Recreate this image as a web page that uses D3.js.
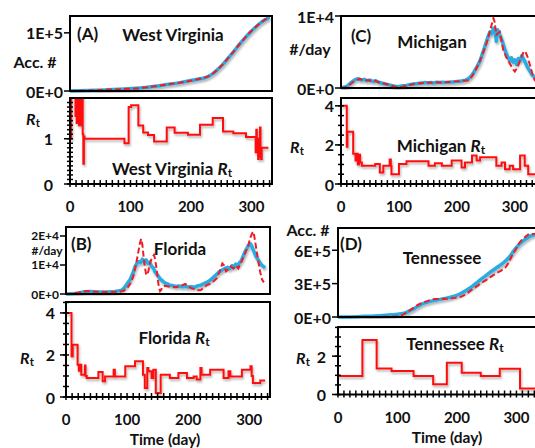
<!DOCTYPE html>
<html>
<meta charset="utf-8">
<style>
body { margin: 0; background: #fff; }
text { font-family: Lato, "Open Sans", sans-serif; font-weight: bold; fill: #111; }
.frame { fill: none; stroke: #000; stroke-width: 2; }
.obs { fill: none; stroke: #29abe2; stroke-width: 3.5; stroke-linejoin: round; }
.fit { fill: none; stroke: #ee1c25; stroke-width: 2; stroke-dasharray: 6,3; }
.rt { fill: none; stroke: #ff1010; stroke-width: 2; }
.tick { stroke: #000; stroke-width: 1.5; }
</style>
<body>
<svg width="535" height="448"></svg>
<script src="https://d3js.org/d3.v7.min.js"></script>
<script>

// ---- data: [day, value] ----
var wvObs = [[0,0],[30,800],[60,2000],[90,3500],[116,5000],[140,8000],[160,11000],[180,14000],[200,18000],[215,21000],[226,24000],[235,29000],[243,36000],[252,45000],[261,56000],[270,67000],[280,80000],[289,91000],[298,101000],[307,110000],[316,118000],[325,124000],[330,127000]];
var wvFit = [[0,0],[30,900],[60,2100],[90,3400],[116,5100],[140,8000],[160,11200],[180,14100],[200,17800],[215,21000],[226,24200],[235,29200],[243,36000],[252,45300],[261,56000],[270,67200],[280,80000],[289,91000],[298,101500],[307,110000],[316,118000],[325,124500],[330,127000]];
var wvRt = [[0,1.0],[2,3],[9,1.5],[10,3],[11,1.35],[12,3],[13,1.6],[14,3],[15,1.3],[16,3],[17,1.5],[18,2.6],[19,1.3],[20,1.9],[21,1.1],[22,0.45],[23,1.05],[24,1.0],[90,0.9],[97,1.7],[101,1.74],[113,1.29],[121,1.14],[129,1.08],[139,0.94],[160,1.25],[173,1.13],[195,1.09],[215,1.31],[236,1.46],[253,1.16],[270,1.12],[291,1.04],[307,0.7],[308,1.2],[309,0.75],[310,1.0],[311,0.55],[312,0.9],[313,0.6],[314,1.25],[315,0.8],[316,0.55],[317,0.8],[328,0.8]];

var flObs = [[0,0],[10,100],[20,300],[30,800],[40,900],[50,700],[60,700],[70,750],[80,900],[90,1200],[95,2000],[100,3500],[105,5000],[110,7500],[113,9500],[116,10500],[119,11200],[122,10800],[125,12000],[128,11000],[131,11800],[134,10500],[137,11000],[140,9500],[143,9000],[146,7500],[150,6500],[154,5200],[158,4500],[162,3800],[166,3500],[170,3000],[175,2900],[180,2600],[185,2800],[190,2500],[195,2700],[200,2400],[205,2500],[210,2300],[215,2800],[220,3000],[225,3500],[230,4000],[235,4600],[240,5500],[245,6500],[250,7500],[255,8200],[260,8800],[265,9200],[268,8700],[272,9800],[275,9200],[278,10300],[281,9700],[284,10800],[287,11500],[290,13000],[294,15000],[298,16500],[302,17300],[305,16000],[308,14500],[311,13000],[314,12000],[317,11000],[320,10000],[323,9500],[326,9000]];
var flFit = [[0,0],[10,200],[20,500],[30,900],[35,1000],[45,800],[60,700],[75,700],[88,800],[95,1200],[100,2000],[105,3500],[110,6000],[114,9500],[118,14000],[121,17500],[123,19000],[125,17000],[127,13000],[129,9500],[131,7000],[133,6500],[135,8000],[138,11000],[141,12500],[144,13500],[146,12000],[148,9000],[150,5500],[152,2500],[154,1000],[156,1500],[158,2500],[162,2800],[170,2500],[180,2300],[188,2800],[195,3500],[200,2800],[205,2000],[210,1700],[215,1300],[220,1300],[225,2000],[230,3000],[236,3600],[242,4500],[247,5500],[252,8000],[256,10500],[259,9800],[262,7800],[266,8500],[270,9500],[274,8800],[278,9800],[282,8800],[286,10500],[290,12500],[294,14500],[298,16500],[302,19500],[305,21000],[307,21500],[309,19000],[312,15000],[315,11000],[318,7500],[321,5000],[324,4000]];
var flRt = [[0,4.0],[9,1.94],[11,2.49],[19,1.54],[21,1.25],[23,1.54],[25,1.06],[31,1.5],[32,1.0],[34,0.9],[53,1.19],[60,0.75],[64,0.98],[78,1.3],[80,0.98],[97,1.46],[113,1.7],[126,1.06],[129,0.43],[133,1.38],[135,1.22],[140,0.9],[143,1.3],[147,0.19],[155,1.06],[170,0.9],[184,1.14],[198,0.9],[209,0.98],[214,0.83],[220,1.38],[222,1.06],[236,1.3],[258,0.9],[266,1.22],[269,0.98],[288,1.3],[302,1.46],[304,1.0],[306,0.67],[318,0.78],[326,0.78]];

var miObs = [[0,0],[10,200],[15,600],[20,900],[25,1200],[30,1300],[35,1100],[40,1200],[45,1000],[50,1100],[55,900],[60,1000],[65,800],[70,700],[75,600],[80,500],[85,400],[90,300],[95,200],[100,200],[105,300],[110,300],[115,400],[120,500],[125,550],[130,600],[135,650],[140,700],[145,750],[150,700],[155,750],[160,700],[165,800],[170,750],[175,800],[180,750],[185,800],[190,850],[195,850],[200,900],[205,950],[210,1000],[215,1100],[220,1300],[225,1700],[230,2300],[235,3000],[240,3800],[245,5000],[250,6200],[254,7200],[257,7800],[260,7500],[263,8300],[266,7900],[268,6500],[270,8100],[273,7600],[276,7000],[279,6300],[282,5500],[285,4800],[288,4300],[291,3800],[294,4200],[297,3600],[300,3900],[303,3300],[306,4100],[309,3800],[312,4500],[315,4000],[318,3600],[321,3000],[324,2600],[327,2200],[330,1800],[335,1500],[340,1300]];
var miFit = [[0,0],[8,100],[15,460],[22,900],[28,1150],[33,1250],[38,1100],[41,1050],[47,1100],[53,950],[59,1000],[65,800],[70,700],[76,600],[82,450],[88,300],[94,180],[99,130],[105,150],[112,300],[120,450],[128,600],[135,650],[142,700],[151,780],[160,720],[167,800],[174,780],[182,820],[190,850],[197,920],[205,950],[212,1000],[220,1060],[226,1600],[231,2300],[237,3300],[243,4400],[247,5300],[251,6200],[255,7300],[259,8500],[263,9700],[265,9200],[268,7400],[271,7600],[274,7800],[277,6500],[280,5300],[285,4300],[291,3450],[296,2700],[300,2300],[304,2800],[308,3600],[312,4400],[315,5000],[318,5100],[322,4300],[326,3200],[330,2000],[334,1150],[338,800]];
var miRt = [[0,4.0],[10,1.9],[11,2.67],[21,1.55],[25,1.2],[27,1.55],[29,1.0],[31,1.5],[33,1.1],[36,0.94],[59,1.02],[67,0.59],[73,0.94],[84,1.25],[86,0.94],[87,0.5],[100,1.02],[113,1.16],[151,0.94],[162,1.06],[174,0.94],[191,1.2],[208,0.85],[214,1.1],[226,1.46],[234,1.2],[240,1.37],[268,0.94],[277,1.1],[283,0.76],[291,0.94],[297,0.76],[309,1.46],[317,0.94],[323,0.5],[345,0.5]];

var tnObs = [[0,0],[20,1000],[45,6000],[70,12000],[90,20000],[100,25000],[113,36000],[120,55000],[129,80000],[137,105000],[146,126000],[157,143000],[169,156000],[180,167000],[191,180000],[202,200000],[213,231000],[225,272000],[236,321000],[247,366000],[258,411000],[270,456000],[281,501000],[289,545000],[297,606000],[305,655000],[314,696000],[322,725000],[331,741000],[340,750000]];
var tnFit = [[0,0],[50,0],[96,4000],[107,15000],[118,51000],[127,82000],[135,111000],[144,130000],[152,147000],[163,162000],[174,163000],[185,165000],[196,172000],[208,186000],[216,210000],[225,246000],[233,275000],[241,306000],[250,336000],[258,366000],[264,385000],[269,402000],[275,420000],[281,441000],[287,490000],[292,546000],[298,600000],[303,651000],[307,680000],[311,702000],[316,725000],[320,741000],[326,746000],[331,747000],[340,750000]];
var tnRt = [[0,0.96],[41,2.84],[65,1.36],[90,1.23],[127,0.96],[160,0.54],[183,1.65],[208,1.13],[240,0.96],[272,1.34],[306,0.31],[345,0.31]];

var dayTicks = [0, 100, 200, 300];

// ---- layout ----
var panels = [
  { obs: wvObs, fit: wvFit, rt: wvRt, cum: true, tag: "(A)", name: "West Virginia", sep: "  ",
    left: 70, right: 272, xMax: 334, top: [16, 91], topMax: 1.29e5, topTicks: [0, 1e5], topLabel: "Acc. #",
    topFont: 16, topLabelPos: [35, 61], tagPos: [77, 33], namePos: [173, 34],
    rtBox: [98, 184], rtMax: 1.9, rtTicks: [0, 1], rtMinor: 0.1, rtLabelPos: [33, 118], rtNamePos: [172, 168],
    rtTickX: 53, xLabelY: 206 },
  { obs: flObs, fit: flFit, rt: flRt, cum: false, tag: "(B)", name: "Florida", sep: "  ",
    left: 66, right: 270, xMax: 334, top: [227, 294], topMax: 2.31e4, topTicks: [0, 1e4, 2e4], topLabel: "#/day",
    topFont: 12, topLabelPos: [47, 250.5], tagPos: [71, 243], namePos: [180, 248],
    rtBox: [302, 397], rtMax: 4.52, rtTicks: [0, 2, 4], rtMinor: 0.5, rtLabelPos: [27, 357], rtNamePos: [174, 337],
    rtTickX: 55, xLabelY: 419, timePos: [165, 438.5] },
  { obs: miObs, fit: miFit, rt: miRt, cum: false, tag: "(C)", name: "Michigan", sep: " ",
    left: 341, right: 545, xMax: 352, top: [16, 88], topMax: 1e4, topTicks: [0, 1e4], topLabel: "#/day",
    topFont: 16, topLabelPos: [310, 48], tagPos: [351, 35], namePos: [432, 41],
    rtBox: [98, 184], rtMax: 4.4, rtTicks: [0, 2, 4], rtMinor: 0.5, rtLabelPos: [297, 146], rtNamePos: [441, 145],
    rtTickX: 334, xLabelY: 206 },
  { obs: tnObs, fit: tnFit, rt: tnRt, cum: true, tag: "(D)", name: "Tennessee", sep: " ",
    left: 338, right: 545, xMax: 348, top: [228, 317], topMax: 8e5, topTicks: [0, 3e5, 6e5], topLabel: "Acc. #",
    topFont: 16, topLabelPos: [308, 229], tagPos: [340, 243], namePos: [442, 257],
    rtBox: [327, 394.5], rtMax: 3.52, rtTicks: [0, 2], rtMinor: 0.5, rtLabelPos: [303, 357], rtNamePos: [455, 343],
    rtTickX: 326, xLabelY: 417, timePos: [447, 436.5] }
];

var svg = d3.select("svg");
var defs = svg.append("defs");
defs.append("filter").attr("id", "sh")
    .attr("x", "-5%").attr("y", "-10%").attr("width", "110%").attr("height", "130%")
  .append("feDropShadow")
    .attr("dx", 1).attr("dy", 2).attr("stdDeviation", 1)
    .attr("flood-color", "#000").attr("flood-opacity", 0.3);

var sci = function(d) { return d === 0 ? "0E+0" : d3.format(".0e")(d).replace("e+", "E+"); };

function rtText(g, x, y, prefix, size) {
  var t = g.append("text").attr("x", x).attr("y", y)
      .attr("text-anchor", "middle").attr("dominant-baseline", "central")
      .attr("font-size", size);
  if (prefix) t.append("tspan").text(prefix);
  t.append("tspan").attr("font-style", "italic").text("R");
  t.append("tspan").attr("font-size", size * 0.7).attr("dy", 4).text("t");
  return t;
}

panels.forEach(function(p, i) {
  var g = svg.append("g");
  var x = d3.scaleLinear().domain([0, p.xMax]).range([p.left, p.right]);
  var yTop = d3.scaleLinear().domain([0, p.topMax]).range([p.top[1], p.top[0]]);
  var yRt = d3.scaleLinear().domain([0, p.rtMax]).range([p.rtBox[1], p.rtBox[0]]);

  // clip regions
  defs.append("clipPath").attr("id", "ct" + i).append("rect")
      .attr("x", p.left).attr("y", p.top[0]).attr("width", p.right - p.left).attr("height", p.top[1] - p.top[0] + 2);
  defs.append("clipPath").attr("id", "cr" + i).append("rect")
      .attr("x", p.left).attr("y", p.rtBox[0]).attr("width", p.right - p.left).attr("height", p.rtBox[1] - p.rtBox[0]);

  // top: cases
  var line = d3.line()
      .x(function(d) { return x(d[0]); })
      .y(function(d) { return yTop(d[1]); })
      .curve(p.cum ? d3.curveMonotoneX : d3.curveLinear);
  var gt = g.append("g").attr("clip-path", "url(#ct" + i + ")");
  gt.append("path").attr("class", "obs").attr("filter", "url(#sh)").attr("d", line(p.obs));
  gt.append("path").attr("class", "fit").attr("d", line(p.fit));

  g.append("rect").attr("class", "frame")
      .attr("x", p.left).attr("y", p.top[0]).attr("width", p.right - p.left).attr("height", p.top[1] - p.top[0]);

  g.selectAll(".ty").data(p.topTicks).enter().append("line").attr("class", "tick")
      .attr("x1", p.left - 6).attr("x2", p.left)
      .attr("y1", function(d) { return yTop(d); }).attr("y2", function(d) { return yTop(d); });
  g.selectAll(".tyl").data(p.topTicks).enter().append("text")
      .attr("x", p.left - 7).attr("y", function(d) { return yTop(d); })
      .attr("text-anchor", "end").attr("dominant-baseline", "central").attr("font-size", p.topFont)
      .text(sci);
  g.append("text").attr("x", p.topLabelPos[0]).attr("y", p.topLabelPos[1])
      .attr("text-anchor", "middle").attr("dominant-baseline", "central").attr("font-size", p.topFont)
      .text(p.topLabel);

  g.append("text").attr("x", p.tagPos[0]).attr("y", p.tagPos[1])
      .attr("dominant-baseline", "central").attr("font-size", 17).text(p.tag);
  g.append("text").attr("x", p.namePos[0]).attr("y", p.namePos[1])
      .attr("text-anchor", "middle").attr("dominant-baseline", "central").attr("font-size", 17).text(p.name);

  // bottom: Rt
  var step = d3.line()
      .x(function(d) { return x(d[0]); })
      .y(function(d) { return yRt(d[1]); })
      .curve(d3.curveStepAfter);
  g.append("g").attr("clip-path", "url(#cr" + i + ")")
    .append("path").attr("class", "rt").attr("filter", "url(#sh)").attr("d", step(p.rt));

  g.append("rect").attr("class", "frame")
      .attr("x", p.left).attr("y", p.rtBox[0]).attr("width", p.right - p.left).attr("height", p.rtBox[1] - p.rtBox[0]);

  var minorY = d3.range(0, p.rtMax, p.rtMinor);
  g.selectAll(".my").data(minorY).enter().append("line").attr("class", "tick")
      .attr("x1", p.left - 3).attr("x2", p.left + 3)
      .attr("y1", function(d) { return yRt(d); }).attr("y2", function(d) { return yRt(d); });
  g.selectAll(".ry").data(p.rtTicks).enter().append("line").attr("class", "tick")
      .attr("x1", p.left - 6).attr("x2", p.left)
      .attr("y1", function(d) { return yRt(d); }).attr("y2", function(d) { return yRt(d); });
  g.selectAll(".ryl").data(p.rtTicks).enter().append("text")
      .attr("x", p.rtTickX).attr("y", function(d) { return yRt(d); })
      .attr("text-anchor", "end").attr("dominant-baseline", "central").attr("font-size", 16)
      .text(function(d) { return d; });
  rtText(g, p.rtLabelPos[0], p.rtLabelPos[1], "", 16);
  rtText(g, p.rtNamePos[0], p.rtNamePos[1], p.name + p.sep, 17);

  // x axis (days)
  var minorX = d3.range(0, p.xMax, 10);
  g.selectAll(".mx").data(minorX).enter().append("line").attr("class", "tick")
      .attr("x1", function(d) { return x(d); }).attr("x2", function(d) { return x(d); })
      .attr("y1", p.rtBox[1] - 4).attr("y2", p.rtBox[1] + 3);
  g.selectAll(".xl").data(dayTicks).enter().append("text")
      .attr("x", function(d) { return x(d); }).attr("y", p.xLabelY)
      .attr("text-anchor", "middle").attr("dominant-baseline", "central").attr("font-size", 15)
      .text(function(d) { return d; });
  if (p.timePos) {
    g.append("text").attr("x", p.timePos[0]).attr("y", p.timePos[1])
        .attr("text-anchor", "middle").attr("dominant-baseline", "central").attr("font-size", 15.5)
        .text("Time (day)");
  }
});

</script>
</body>
</html>
